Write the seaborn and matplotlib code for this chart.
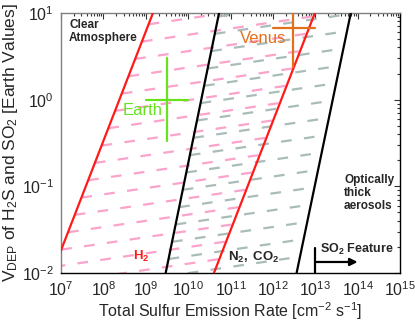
import numpy as np
import seaborn as sns
import matplotlib.pyplot as plt
from matplotlib.patches import Polygon
from matplotlib.ticker import LogLocator, NullFormatter

# boundary lines: emission rate where each line crosses V_DEP = 0.01 and V_DEP = 10
vdep_ends = [0.01, 10]
h2_left = [6.2e6, 1.48e9]
h2_right = [4.07e10, 9.8e12]
n2_left = [2.95e9, 5.37e10]
n2_right = [3.63e12, 6.9e13]

# hatch lines: V_DEP where each dashed line leaves the left boundary line
pink_levels = [0.0074, 0.0118, 0.0186, 0.0295, 0.0468, 0.0741, 0.1175, 0.186,
               0.295, 0.468, 0.741, 1.175, 1.86, 2.95, 4.68, 7.41]
gray_levels = [0.0091, 0.0145, 0.0229, 0.0363, 0.0575, 0.0912, 0.1445, 0.229,
               0.363, 0.575, 0.912, 1.445, 2.29, 3.63, 5.75, 9.12]
hatch_slope = 0.072  # decades of V_DEP per decade of emission

earth_flux = [1e9, 3.16e9, 1e10]
earth_vdep = [0.33, 1.0, 3.0]
venus_flux = [1e12, 3.0e12, 1e13]
venus_vdep = [2.4, 6.7, 19.0]

so2_feature_flux = [1e13, 1e14]

sns.set_style("white")
plt.rcParams['font.family'] = ['Liberation Sans', 'DejaVu Sans']
plt.rcParams['mathtext.fontset'] = 'custom'
plt.rcParams['mathtext.rm'] = 'Liberation Sans'
plt.rcParams['mathtext.it'] = 'Liberation Sans'
plt.rcParams['mathtext.bf'] = 'Liberation Sans:bold'
plt.rcParams['lines.scale_dashes'] = False

RED = '#ff1a1a'
PINK = '#fba3cb'
GRAY = '#a9bcba'
GREEN = '#66e21e'
ORANGE = '#e5701c'


def flux_on(line, v):
    # log-log interpolation / extrapolation along a boundary line
    lx = np.log10(line)
    t = (np.log10(v) + 2) / 3.0
    return 10 ** (lx[0] + t * (lx[1] - lx[0]))


fig = plt.figure(figsize=(4.15, 3.25), dpi=100)
ax = fig.add_axes([61 / 415, 52 / 325, 339 / 415, 260 / 325])
ax.set_xscale('log')
ax.set_yscale('log')


def hatch(levels, left, right, color):
    vv = np.array([1e-4, 1e3])
    poly = Polygon(np.column_stack([np.r_[flux_on(left, vv), flux_on(right, vv[::-1])],
                                    np.r_[vv, vv[::-1]]]),
                   closed=True, transform=ax.transData, facecolor='none', edgecolor='none')
    ax.add_patch(poly)
    for v in levels:
        x0 = flux_on(left, v)
        xs = [x0, x0 * 1e6]
        ys = [v, v * 10 ** (6 * hatch_slope)]
        ln, = ax.plot(xs, ys, color=color, lw=1.6, linestyle=(0, (7.7, 8.9)),
                      solid_capstyle='butt', zorder=1)
        ln.set_clip_path(poly)


hatch(gray_levels, n2_left, n2_right, GRAY)
hatch(pink_levels, h2_left, h2_right, PINK)

for line, c in [(h2_left, RED), (h2_right, RED), (n2_left, 'black'), (n2_right, 'black')]:
    sns.lineplot(x=line, y=vdep_ends, color=c, lw=1.6, ax=ax, zorder=3, sort=False)

# Earth and Venus crosses
ax.plot([earth_flux[0], earth_flux[2]], [earth_vdep[1]] * 2, color=GREEN, lw=1.6, zorder=4)
ax.plot([earth_flux[1]] * 2, [earth_vdep[0], earth_vdep[2]], color=GREEN, lw=1.6, zorder=4)
ax.plot([venus_flux[0], venus_flux[2]], [venus_vdep[1]] * 2, color=ORANGE, lw=1.6, zorder=4)
ax.plot([venus_flux[1]] * 2, [venus_vdep[0], venus_vdep[2]], color=ORANGE, lw=1.6, zorder=4)
ax.text(2.9e8, 0.74, 'Earth', color=GREEN, fontsize=12, va='center', ha='left', zorder=5)
ax.text(1.66e11, 5.1, 'Venus', color=ORANGE, fontsize=12, va='center', ha='left', zorder=5)

# SO2 feature marker
ax.plot([so2_feature_flux[0]] * 2, [0.01, 0.0195], color='black', lw=1.6, zorder=4)
ax.annotate('', xy=(so2_feature_flux[1], 0.0134), xytext=(so2_feature_flux[0], 0.0134),
            arrowprops=dict(arrowstyle='-|>', color='black', lw=1.6,
                            mutation_scale=11, shrinkA=0, shrinkB=0), zorder=4)

bold = dict(fontweight='bold', transform=ax.transAxes)
ax.text(0.024, 0.975, 'Clear\nAtmosphere', va='top', ha='left', linespacing=1.1,
        fontsize=8.5, **bold)
ax.text(0.835, 0.38, 'Optically\nthick\naerosols', va='top', ha='left', linespacing=1.1,
        fontsize=8.5, **bold)
ax.text(0.212, 0.05, r'$\mathbf{H_2}$', color=RED, va='baseline', ha='left',
        fontsize=9.5, **bold)
ax.text(0.493, 0.047, r'$\mathbf{N_2,\ CO_2}$', va='baseline', ha='left',
        fontsize=9.5, **bold)
ax.text(0.764, 0.078, r'$\mathbf{SO_2}$ Feature', va='baseline', ha='left',
        fontsize=9, **bold)

ax.set_xlim(1e7, 1e15)
ax.set_ylim(1e-2, 1e1)
ax.xaxis.set_major_locator(LogLocator(base=10, numticks=20))
ax.xaxis.set_minor_locator(LogLocator(base=10, subs=np.arange(2, 10), numticks=20))
ax.xaxis.set_minor_formatter(NullFormatter())
ax.yaxis.set_minor_locator(LogLocator(base=10, subs=np.arange(2, 10), numticks=20))
ax.yaxis.set_minor_formatter(NullFormatter())
ax.tick_params(which='both', direction='in', top=True, right=True, labelsize=11.5,
               color='#333333', width=0.8)
ax.tick_params(which='major', length=4, pad=5)
ax.tick_params(which='minor', length=2)
for side in ['left', 'top']:
    ax.spines[side].set_color('#808080')
for side in ['right', 'bottom']:
    ax.spines[side].set_color('black')
for s in ax.spines.values():
    s.set_linewidth(1.0)

ax.set_xlabel(r'Total Sulfur Emission Rate [cm$^{-2}$ s$^{-1}$]', fontsize=11.5, labelpad=1)
ax.set_ylabel(r'V$_{DEP}$ of H$_2$S and SO$_2$ [Earth Values]', fontsize=12.5, labelpad=1)

fig.savefig('out.png', dpi=100)
